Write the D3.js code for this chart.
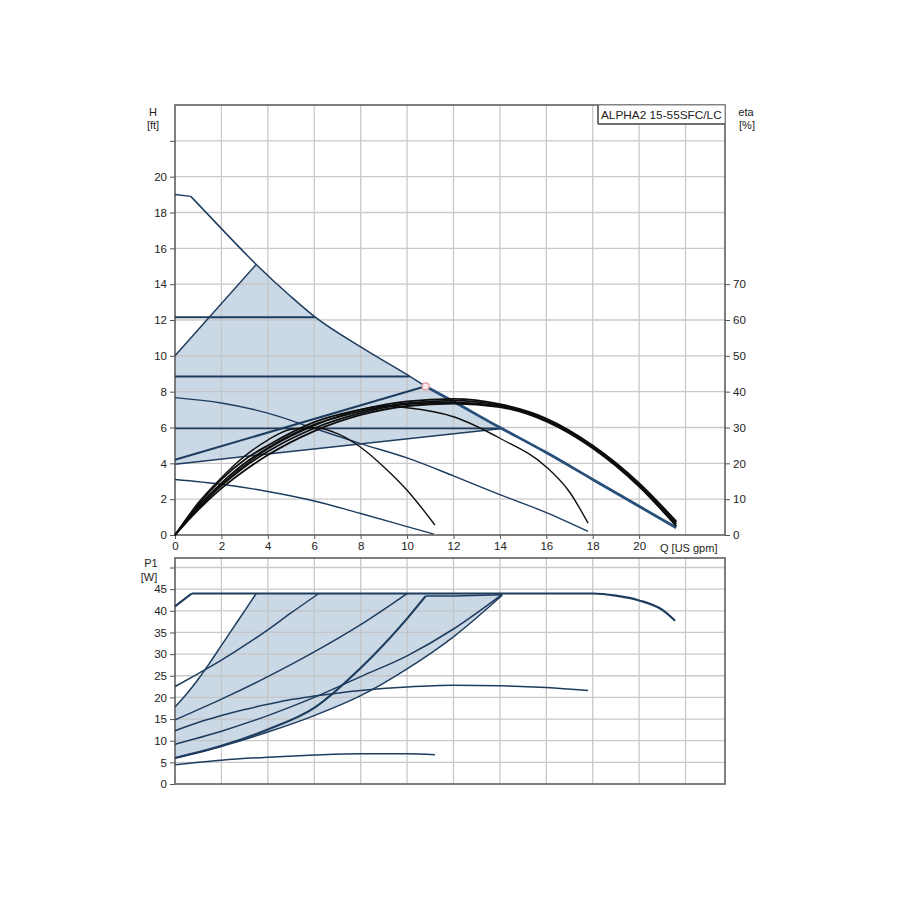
<!DOCTYPE html>
<html><head><meta charset="utf-8">
<script src="https://cdn.jsdelivr.net/npm/d3@7"></script>
<style>body{margin:0;background:#fff}svg text{font-family:"Liberation Sans",Arial,sans-serif;fill:#222}</style>
</head><body><div id="c"></div>
<script>
// ---------- DATA ----------
const xTicks = [0,2,4,6,8,10,12,14,16,18,20];
const hTicks = [0,2,4,6,8,10,12,14,16,18,20];
const etaTicks = [0,10,20,30,40,50,60,70];
const pTicks = [0,5,10,15,20,25,30,35,40,45];
const modelName = "ALPHA2 15-55SFC/LC";

// Head curves [Q gpm, H ft]
const maxCurveStart = [[0,19.0],[0.68,18.9]];
const maxCurve = [[0.68,18.9],[2,17.1],[3.5,15.1],[5,13.3],[6,12.2],[8,10.5],[10,8.95],[10.8,8.3],[12,7.45],[14,6.0],[14.1,5.93],[16,4.6],[18,3.1],[20,1.6],[21.6,0.4]];
const speed2Head = [[0,7.67],[2,7.37],[4,6.8],[6,5.95],[8,5.1],[10,4.3],[12,3.3],[14,2.25],[16,1.25],[17.8,0.2]];
const speed1Head = [[0,3.1],[2,2.83],[4,2.43],[6,1.9],[8,1.2],[10,0.47],[11.15,0.05]];
const cpHigh = [[0,12.15],[6.05,12.15]];
const cpMid = [[0,8.85],[10.1,8.85]];
const cpLow = [[0,5.95],[14.1,5.95]];
const ppHigh = [[0,10.0],[3.5,15.1]];
const ppMid = [[0,4.2],[10.8,8.3]];
const ppLow = [[0,3.95],[14.1,5.95]];
const dutyPoint = [10.8,8.3];

// Efficiency curves [Q gpm, eta %]
const etaA = [[0,0],[1,8.5],[2,15.5],[3,21],[4,25],[6,31.5],[8,35],[10,37.3],[12,38],[14,36.5],[16,32.5],[18,25],[20,14.5],[21.6,3.8]];
const etaB = [[0,0],[1,8],[2,14.5],[3,20],[4,24.3],[6,30.8],[8,34.5],[10,36.8],[12,37.5],[14,36.2],[16,32.2],[18,24.7],[20,14.2],[21.6,3.5]];
const etaC = [[0,0],[1,7.5],[2,13.8],[3,19],[4,23.3],[6,29.8],[8,34],[10,36.5],[12,37],[14,36],[16,32],[18,24.5],[20,13.8],[21.6,3.0]];
const etaD = [[0,0],[1,7],[2,13],[3,18],[4,22.3],[6,29],[8,33.5],[10,36],[12,36.7],[14,35.7],[16,31.7],[18,24.2],[20,13.5],[21.6,2.5]];
const etaSpeed2 = [[0,0],[2,14],[4,24],[6,30.5],[8,35],[9,36],[10,35.5],[12,33],[14,27],[16,19],[17,12],[17.8,3.3]];
const etaSpeed1 = [[0,0],[1,9],[2,16],[3,22],[4,26.5],[5,29.5],[6,30],[7,28.3],[8,24.5],[9,19],[10,12.5],[11.2,2.8]];

// Power curves [Q gpm, P1 W]
const pMaxStart = [[0,41],[0.72,44]];
const pMax = [[0.72,44],[18,44],[19,43.5],[20,42.4],[21,40.2],[21.55,37.7]];
const pSpeed2 = [[0,12.3],[1,14.2],[2,15.8],[3,17.2],[4,18.4],[5,19.5],[6,20.3],[8,21.6],[10,22.4],[12,22.8],[14,22.7],[16,22.3],[17.8,21.6]];
const pSpeed1 = [[0,4.45],[2,5.5],[4,6.2],[6,6.7],[8,7.0],[10,7.0],[11.2,6.75]];
const pPpHigh = [[0,17.8],[0.5,20.8],[1,24.2],[1.5,28],[2,32],[2.5,36],[3,40],[3.5,44]];
const pCpHigh = [[0,22.5],[1,25.5],[2,28.6],[3,32],[4,35.6],[5,39.5],[6.2,44]];
const pCpMid = [[0,14.8],[2,19.6],[4,24.8],[6,30.5],[8,36.8],[10,44]];
const pPpMid = [[0,6],[2,8.8],[4,12.6],[6,17.6],[8,26.8],[10,38.2],[10.8,43.4]];
const pPpMidTail = [[10.8,43.4],[12,43.45],[14.1,43.7]];
const pCpLow = [[0,9.2],[2,12.2],[4,15.8],[6,20],[8,24.8],[10,29.6],[12,35.8],[14.1,43.8]];
const pPpLow = [[0,6],[2,8.7],[4,12],[6,15.8],[8,20.4],[10,26.6],[12,34],[14.1,43.6]];

// ---------- LAYOUT ----------
const W = 900, H = 900;
const L = 175, R = 725, T1 = 105, B1 = 535, T2 = 558, B2 = 784;
const svg = d3.select("#c").append("svg").attr("width", W).attr("height", H);

const x = d3.scaleLinear().domain([0, 23.7]).range([L, R]);
const yH = d3.scaleLinear().domain([0, 24]).range([B1, T1]);
const yEta = d3.scaleLinear().domain([0, 120]).range([B1, T1]);
const yP = d3.scaleLinear().domain([0, 52.2]).range([B2, T2]);

const navy = "#1d3c5e", grid = "#c4c4c4", shade = "#cbd8e6";

// shading top
const maxSeg = maxCurve.filter(d => d[0] >= 3.5 && d[0] <= 14.1);
const topPoly = [...ppHigh, ...maxSeg, ...ppLow.slice().reverse()];
svg.append("path").attr("d", d3.line().x(d => x(d[0])).y(d => yH(d[1]))(topPoly) + "Z")
  .attr("fill", shade);
// shading bottom
const botPoly = [...pPpHigh, [14.1, 44], ...pPpLow.slice().reverse()];
svg.append("path").attr("d", d3.line().x(d => x(d[0])).y(d => yP(d[1]))(botPoly) + "Z")
  .attr("fill", shade);

// grids
const gx = d3.range(0, 23, 2);
const g = svg.append("g").attr("stroke", grid).attr("stroke-width", 1.3).attr("opacity", 0.9);
gx.forEach(q => {
  if (q === 0) return;
  g.append("line").attr("x1", x(q)).attr("x2", x(q)).attr("y1", T1).attr("y2", B1);
  g.append("line").attr("x1", x(q)).attr("x2", x(q)).attr("y1", T2).attr("y2", B2);
});
d3.range(2, 24, 2).forEach(h => g.append("line").attr("x1", L).attr("x2", R).attr("y1", yH(h)).attr("y2", yH(h)));
d3.range(5, 52, 5).forEach(p => g.append("line").attr("x1", L).attr("x2", R).attr("y1", yP(p)).attr("y2", yP(p)));

// frames
const fr = svg.append("g").attr("fill", "none").attr("stroke", "#606060").attr("stroke-width", 1.6);
fr.append("rect").attr("x", L).attr("y", T1).attr("width", R - L).attr("height", B1 - T1);
fr.append("rect").attr("x", L).attr("y", T2).attr("width", R - L).attr("height", B2 - T2);

// axes
const axStyle = sel => {
  sel.selectAll("path").remove();
  sel.selectAll("line").attr("stroke", "#555");
  sel.selectAll("text").attr("font-size", 11.5).style("font-family", '"Liberation Sans",Arial,sans-serif').attr("fill", "#222");
};
svg.append("g").attr("transform", `translate(0,${B1})`)
  .call(d3.axisBottom(x).tickValues(xTicks).tickSize(4).tickPadding(3)).call(axStyle);
svg.append("g").attr("transform", `translate(${L},0)`)
  .call(d3.axisLeft(yH).tickValues(hTicks.concat([22])).tickSize(5).tickPadding(3).tickFormat(d => d === 22 ? "" : d)).call(axStyle);
svg.append("g").attr("transform", `translate(${R},0)`)
  .call(d3.axisRight(yEta).tickValues(etaTicks).tickSize(5).tickPadding(3)).call(axStyle);
svg.append("g").attr("transform", `translate(${L},0)`)
  .call(d3.axisLeft(yP).tickValues(pTicks.concat([50])).tickSize(5).tickPadding(3).tickFormat(d => d === 50 ? "" : d)).call(axStyle);

// axis titles
const txt = (t, xx, yy, anchor, fs) => svg.append("text").attr("x", xx).attr("y", yy).attr("font-size", fs || 11)
  .attr("text-anchor", anchor || "start").text(t);
txt("H", 153, 116, "middle"); txt("[ft]", 153, 129, "middle");
txt("eta", 746, 116, "middle"); txt("[%]", 747, 129, "middle");
txt("P1", 151, 567, "middle"); txt("[W]", 149, 581, "middle");
txt("Q [US gpm]", 660, 552);

// legend box
svg.append("rect").attr("x", 598).attr("y", T1).attr("width", R - 598).attr("height", 19)
  .attr("fill", "#fff").attr("stroke", "#888").attr("stroke-width", 1);
svg.append("line").attr("x1", 598).attr("x2", 598).attr("y1", T1).attr("y2", T1 + 19).attr("stroke", "#555").attr("stroke-width", 1.5);
svg.append("line").attr("x1", 598).attr("x2", R).attr("y1", T1 + 19).attr("y2", T1 + 19).attr("stroke", "#555").attr("stroke-width", 1.5);
txt(modelName, 601, 119, "start", 11.8);

// curves
const lineH = d3.line().x(d => x(d[0])).y(d => yH(d[1])).curve(d3.curveMonotoneX);
const lineHL = d3.line().x(d => x(d[0])).y(d => yH(d[1]));
const lineE = d3.line().x(d => x(d[0])).y(d => yEta(d[1])).curve(d3.curveMonotoneX);
const lineP = d3.line().x(d => x(d[0])).y(d => yP(d[1])).curve(d3.curveMonotoneX);
const linePL = d3.line().x(d => x(d[0])).y(d => yP(d[1]));
const draw = (gen, data, color, w) => svg.append("path").attr("d", gen(data))
  .attr("fill", "none").attr("stroke", color).attr("stroke-width", w).attr("stroke-linejoin", "round");

[speed1Head, speed2Head].forEach(d => draw(lineH, d, navy, 1.4));
[cpHigh, cpMid, cpLow].forEach(d => draw(lineHL, d, navy, 1.9));
[ppHigh, ppLow].forEach(d => draw(lineHL, d, navy, 1.5));
draw(lineHL, ppMid, navy, 2);
draw(lineHL, maxCurveStart, navy, 1.5);
draw(lineH, maxCurve.filter(d => d[0] <= 10.8), navy, 1.5);
draw(lineH, maxCurve.filter(d => d[0] >= 10.8), "#264f7a", 2.8);

[etaSpeed1, etaSpeed2].forEach(d => draw(lineE, d, "#111", 1.4));
[etaA, etaB, etaC, etaD].forEach(d => draw(lineE, d, "#0d0d0d", 1.8));

svg.append("circle").attr("cx", x(dutyPoint[0])).attr("cy", yH(dutyPoint[1])).attr("r", 3.5)
  .attr("fill", "#fde9ea").attr("stroke", "#e79a9f").attr("stroke-width", 1.2);

[pSpeed1, pSpeed2].forEach(d => draw(lineP, d, navy, 1.5));
[pPpHigh, pCpHigh, pCpMid, pCpLow, pPpLow, pPpMidTail].forEach(d => draw(lineP, d, navy, 1.5));
draw(lineP, pPpMid, navy, 2.2);
draw(linePL, pMaxStart, navy, 2.2);
draw(lineP, pMax, navy, 2.2);
</script></body></html>
